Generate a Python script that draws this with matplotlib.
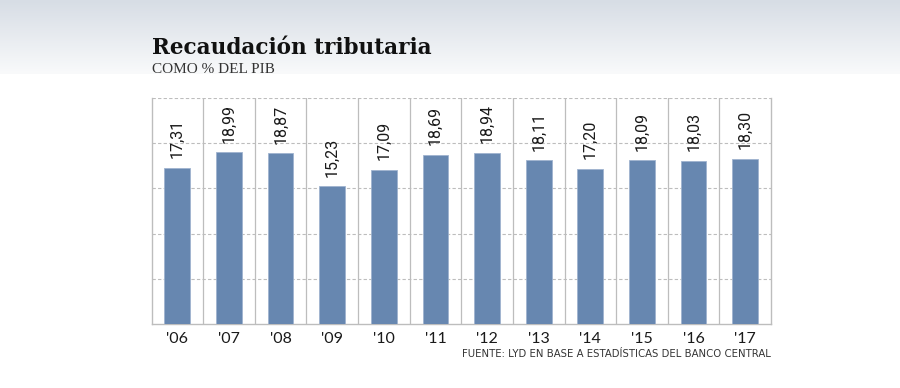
import numpy as np
import matplotlib.pyplot as plt
from matplotlib.colors import LinearSegmentedColormap

# ---------------- DATA ----------------
years = ["'06", "'07", "'08", "'09", "'10", "'11", "'12", "'13", "'14", "'15", "'16", "'17"]
values = [17.31, 18.99, 18.87, 15.23, 17.09, 18.69, 18.94, 18.11, 17.20, 18.09, 18.03, 18.30]
labels = ["17,31", "18,99", "18,87", "15,23", "17,09", "18,69", "18,94", "18,11",
          "17,20", "18,09", "18,03", "18,30"]
grid_levels = [5, 10, 15, 20, 25]

TITLE = "Recaudación tributaria"
SUBTITLE = "COMO % DEL PIB"
SOURCE = "FUENTE: LYD EN BASE A ESTADÍSTICAS DEL BANCO CENTRAL"

BAR_COLOR = "#6787b0"
GRID_COLOR = "#bdbdbd"

# ---------------- FIGURE ----------------
fig = plt.figure(figsize=(9, 3.88), dpi=100)
fig.patch.set_facecolor("white")

# top gradient band
bg = fig.add_axes([0, 1 - 74 / 388, 1, 74 / 388], zorder=-5)
cmap = LinearSegmentedColormap.from_list("band", ["#d7dde5", "#f9fafb"])
grad = np.linspace(0, 1, 100).reshape(-1, 1)
bg.imshow(grad, aspect="auto", cmap=cmap, extent=[0, 1, 0, 1], origin="upper")
bg.axis("off")

ax = fig.add_axes([151.5 / 900, 64 / 388, 619.5 / 900, 226 / 388])
x = np.arange(len(values))
ax.bar(x, values, width=0.5, color=BAR_COLOR, edgecolor="#9fb3cf", linewidth=0.6, zorder=3)

ax.set_xlim(-0.5, len(values) - 0.5)
ax.set_ylim(0, 25)

for g in grid_levels:
    ax.axhline(g, color=GRID_COLOR, lw=0.8, ls=(0, (3, 2)), zorder=1)
for b in x[:-1] + 0.5:
    ax.axvline(b, color=GRID_COLOR, lw=0.9, zorder=1)

for xi, v, lab in zip(x, values, labels):
    ax.annotate(lab, (xi, v), xytext=(0, 7), textcoords="offset points",
                rotation=90, ha="center", va="bottom", fontsize=11.5,
                family="Roboto", color="#1a1a1a", zorder=4)

ax.spines["top"].set_visible(False)
for s in ["left", "right", "bottom"]:
    ax.spines[s].set_color(GRID_COLOR)
    ax.spines[s].set_linewidth(1.0)

ax.set_yticks([])
ax.set_xticks(x)
ax.set_xticklabels(years, fontsize=11.5, family="Lato", color="#1a1a1a")
ax.tick_params(axis="x", length=0, pad=6)

# ---------------- TEXT ----------------
fig.text(152 / 900, 1 - 54.5 / 388, TITLE, fontsize=15.5, family="DejaVu Serif",
         fontweight="bold", color="#111111", ha="left", va="baseline")
fig.text(152 / 900, 1 - 72.7 / 388, SUBTITLE, fontsize=11, family="Liberation Serif",
         color="#333333", ha="left", va="baseline")
fig.text(771 / 900, 1 - 356.7 / 388, SOURCE, fontsize=7.3,
         family=["Liberation Sans Narrow", "DejaVu Sans"], color="#333333",
         ha="right", va="baseline")

fig.savefig("out.png", dpi=100)
